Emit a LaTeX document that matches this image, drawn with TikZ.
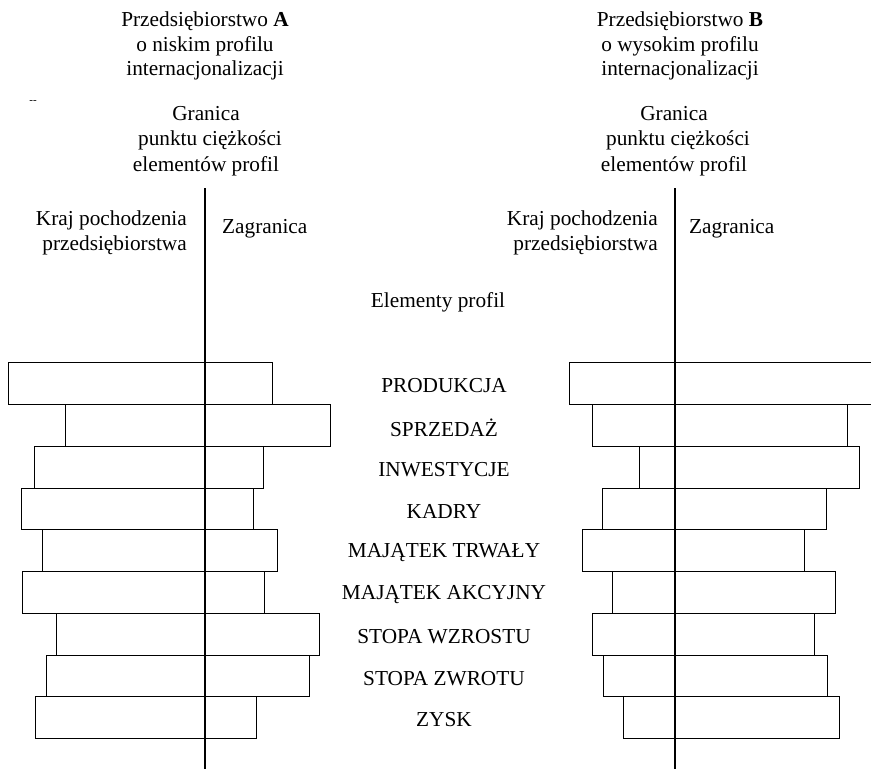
\documentclass[tikz,border=0pt]{standalone}
\usepackage{fontspec}
\setmainfont{Liberation Serif}
\usepackage{tikz}

\begin{document}
\begin{tikzpicture}[x=1pt,y=-1pt,
	txt/.style={font=\fontsize{21.3}{24.5}\selectfont,inner sep=0pt},
	bar/.style={draw,line width=1pt},
	axis/.style={line width=1.3pt}]
	
	\useasboundingbox (0,0) rectangle (871,769);
	
	% Draw headings
	\node[txt,align=center] (titleA) at (205,46) {Przedsiębiorstwo \textbf{A}\\o niskim profilu\\internacjonalizacji};
	\node[txt,align=center] (titleB) at (680,46) {Przedsiębiorstwo \textbf{B}\\o wysokim profilu\\internacjonalizacji};
	\node[font=\fontsize{11}{11}\selectfont,inner sep=0pt] (mark) at (33,102) {{-}{-}};
	\node[txt,align=center,font=\fontsize{21.3}{25.5}\selectfont] (granA) at (206,141) {Granica\\\hspace{8pt}punktu ciężkości\\elementów profil\hspace{8pt}};
	\node[txt,align=center,font=\fontsize{21.3}{25.5}\selectfont] (granB) at (674,141) {Granica\\\hspace{8pt}punktu ciężkości\\elementów profil\hspace{8pt}};
	\node[txt,align=right,anchor=east] (krajA) at (187,233) {Kraj pochodzenia\\przedsiębiorstwa};
	\node[txt,anchor=west] (zagrA) at (222,229) {Zagranica};
	\node[txt,align=right,anchor=east] (krajB) at (658,233) {Kraj pochodzenia\\przedsiębiorstwa};
	\node[txt,anchor=west] (zagrB) at (689,229) {Zagranica};
	\node[txt] (elem) at (438,302) {Elementy profil};
	
	% Draw element names
	\node[txt] (prod) at (444,386) {PRODUKCJA};
	\node[txt] (sprz) at (444,428) {SPRZEDAŻ};
	\node[txt] (inw) at (444,470) {INWESTYCJE};
	\node[txt] (kadry) at (444,511) {KADRY};
	\node[txt] (mtrw) at (444,553) {MAJĄTEK TRWAŁY};
	\node[txt] (makc) at (444,595) {MAJĄTEK AKCYJNY};
	\node[txt] (wzr) at (444,637) {STOPA WZROSTU};
	\node[txt] (zwr) at (444,679) {STOPA ZWROTU};
	\node[txt] (zysk) at (444,720) {ZYSK};
	
	% Draw axes
	\coordinate (axA-top) at (205,188);
	\coordinate (axA-bot) at (205,769);
	\coordinate (axB-top) at (675,188);
	\coordinate (axB-bot) at (675,769);
	\draw[axis] (axA-top) -- (axA-bot);
	\draw[axis] (axB-top) -- (axB-bot);
	
	% Draw bars, firm A
	\draw[bar] (8,362) rectangle (272,404);
	\draw[bar] (65,404) rectangle (330,446);
	\draw[bar] (34,446) rectangle (263,488);
	\draw[bar] (21,488) rectangle (253,529);
	\draw[bar] (42,529) rectangle (277,571);
	\draw[bar] (22,571) rectangle (264,613);
	\draw[bar] (56,613) rectangle (319,655);
	\draw[bar] (46,655) rectangle (309,696);
	\draw[bar] (35,696) rectangle (256,738);
	
	% Draw bars, firm B
	\draw[bar] (569,362) rectangle (885,404);
	\draw[bar] (592,404) rectangle (847,446);
	\draw[bar] (639,446) rectangle (859,488);
	\draw[bar] (602,488) rectangle (826,529);
	\draw[bar] (582,529) rectangle (804,571);
	\draw[bar] (612,571) rectangle (835,613);
	\draw[bar] (592,613) rectangle (814,655);
	\draw[bar] (603,655) rectangle (827,696);
	\draw[bar] (623,696) rectangle (839,738);
	
\end{tikzpicture}
\end{document}
